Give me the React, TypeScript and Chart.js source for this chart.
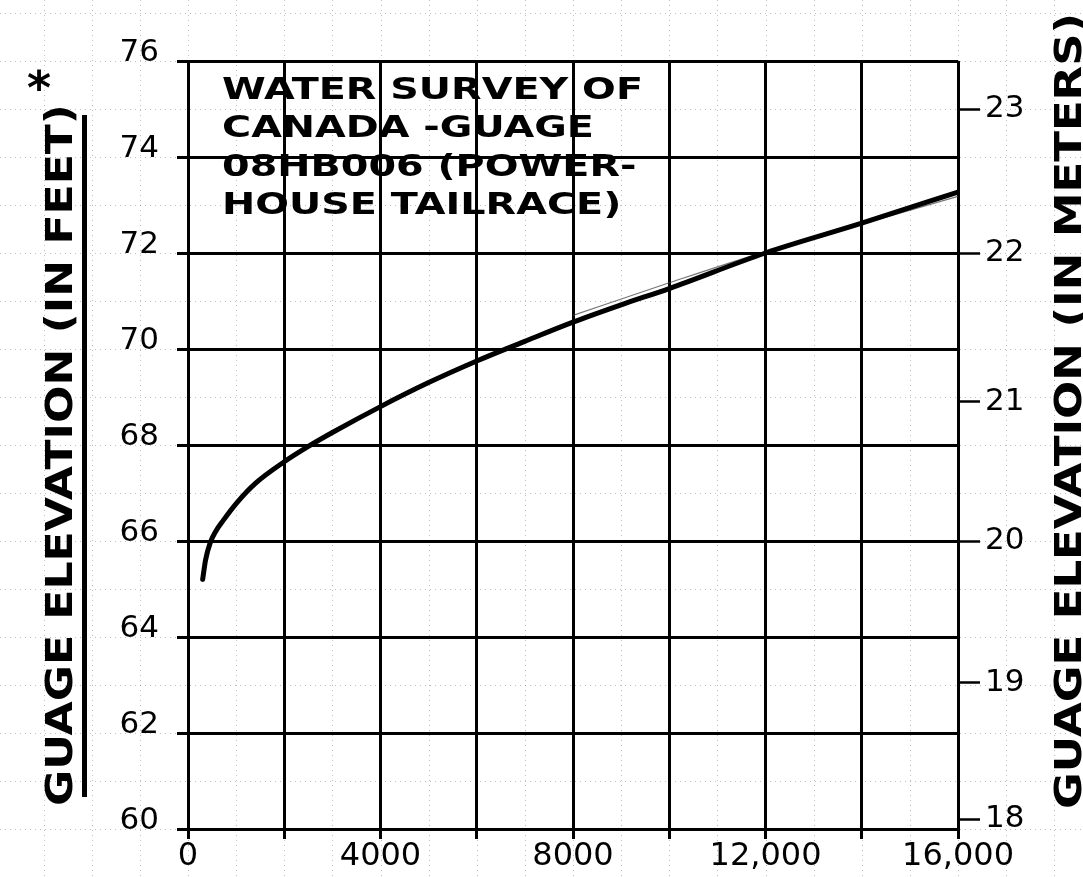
import React, { useEffect, useRef } from 'react';
import { Chart, registerables } from 'chart.js';

Chart.register(...registerables);

// ---- data ----
const dischargeValues = [305, 364, 457, 582, 733, 1018, 1400, 2000, 2500, 3000, 4000, 5000, 6000, 7000, 8000, 9000, 10000, 12000, 14000, 16000];
const elevationFeet = [65.2, 65.6, 65.95, 66.21, 66.43, 66.8, 67.2, 67.65, 67.97, 68.26, 68.8, 69.3, 69.75, 70.16, 70.56, 70.92, 71.26, 72.0, 72.62, 73.27];

const traceDischarge = [8000, 10000, 12000, 14000, 16000];
const traceFeet = [70.7, 71.38, 72.03, 72.6, 73.18];

const xTickValues = [0, 4000, 8000, 12000, 16000];
const xTickLabels = ['0', '4000', '8000', '12,000', '16,000'];

const feetTickValues = [60, 62, 64, 66, 68, 70, 72, 74, 76];
const feetTickLabels = ['60', '62', '64', '66', '68', '70', '72', '74', '76'];

const meterTickFeet = [75.0, 72.0, 68.9, 66.0, 63.05, 60.2];
const meterTickLabels = ['23', '22', '21', '20', '19', '18'];

const titleLines = ['WATER SURVEY OF', 'CANADA -GUAGE', '08HB006 (POWER-', 'HOUSE TAILRACE)'];
const leftAxisTitle = 'GUAGE ELEVATION (IN FEET)';
const rightAxisTitle = 'GUAGE ELEVATION (IN METERS)';

const FONT = '"DejaVu Sans", sans-serif';

const paperPlugin = {
  id: 'paper',
  beforeDraw(chart: any) {
    const { ctx, width, height } = chart;
    const xs = chart.scales.x;
    const ys = chart.scales.y;
    ctx.save();
    ctx.fillStyle = '#ffffff';
    ctx.fillRect(0, 0, width, height);
    ctx.strokeStyle = 'rgba(70,70,70,0.35)';
    ctx.lineWidth = 1;
    ctx.setLineDash([1, 4]);
    for (let v = -4000; v <= 24000; v += 1000) {
      const px = Math.round(xs.getPixelForValue(v)) + 0.5;
      if (px < 0 || px > width) continue;
      ctx.beginPath();
      ctx.moveTo(px, 0);
      ctx.lineTo(px, height);
      ctx.stroke();
    }
    for (let v = 56; v <= 80; v += 1) {
      const py = Math.round(ys.getPixelForValue(v)) + 0.5;
      if (py < 0 || py > height) continue;
      ctx.beginPath();
      ctx.moveTo(0, py);
      ctx.lineTo(width, py);
      ctx.stroke();
    }
    ctx.restore();
  },
};

const textPlugin = {
  id: 'handText',
  afterDraw(chart: any) {
    const { ctx, chartArea } = chart;
    ctx.save();
    ctx.fillStyle = '#000';
    ctx.strokeStyle = '#000';

    // Title block in plot
    ctx.font = `bold 30px ${FONT}`;
    ctx.textBaseline = 'middle';
    ctx.textAlign = 'left';
    const w0 = ctx.measureText(titleLines[0]).width;
    const sx = 421 / w0;
    const tx = chartArea.left + 34;
    const lineYs = [91, 129, 168, 206];
    titleLines.forEach((line, i) => {
      ctx.save();
      ctx.translate(tx, lineYs[i]);
      ctx.scale(sx, 1);
      ctx.fillText(line, 0, 0);
      ctx.restore();
    });

    // Left axis title (rotated)
    ctx.font = `bold 37px ${FONT}`;
    ctx.textBaseline = 'alphabetic';
    const wl = ctx.measureText(leftAxisTitle).width;
    ctx.save();
    ctx.translate(72, 806);
    ctx.rotate(-Math.PI / 2);
    ctx.scale(702 / wl, 1);
    ctx.fillText(leftAxisTitle, 0, 0);
    ctx.restore();

    // underline of left title
    ctx.lineWidth = 5;
    ctx.setLineDash([]);
    ctx.beginPath();
    ctx.moveTo(84.5, 115);
    ctx.lineTo(84.5, 797);
    ctx.stroke();

    // asterisk
    ctx.font = `bold 46px ${FONT}`;
    ctx.textAlign = 'center';
    ctx.textBaseline = 'middle';
    ctx.fillText('*', 39, 92);

    // Right axis title (rotated)
    ctx.font = `bold 38px ${FONT}`;
    ctx.textAlign = 'left';
    ctx.textBaseline = 'alphabetic';
    const wr = ctx.measureText(rightAxisTitle).width;
    ctx.save();
    ctx.translate(1081, 809);
    ctx.rotate(-Math.PI / 2);
    ctx.scale(796 / wr, 1);
    ctx.fillText(rightAxisTitle, 0, 0);
    ctx.restore();

    ctx.restore();
  },
};

export default function App() {
  const canvasRef = useRef<HTMLCanvasElement | null>(null);

  useEffect(() => {
    document.body.style.margin = '0';
    const canvas = canvasRef.current;
    if (!canvas) return;
    const chart = new Chart(canvas, {
      type: 'line',
      data: {
        datasets: [
          {
            label: 'trace',
            data: traceDischarge.map((x, i) => ({ x, y: traceFeet[i] })),
            borderColor: 'rgba(60,60,60,0.7)',
            borderWidth: 1.2,
            pointRadius: 0,
            cubicInterpolationMode: 'monotone',
            order: 2,
          },
          {
            label: 'rating',
            data: dischargeValues.map((x, i) => ({ x, y: elevationFeet[i] })),
            borderColor: '#000',
            borderWidth: 5,
            borderCapStyle: 'round',
            borderJoinStyle: 'round',
            pointRadius: 0,
            cubicInterpolationMode: 'monotone',
            order: 1,
          },
        ],
      },
      options: {
        animation: false,
        responsive: false,
        maintainAspectRatio: false,
        devicePixelRatio: 1,
        layout: { padding: { top: 61, left: 0, right: 0, bottom: 0 } },
        plugins: {
          legend: { display: false },
          tooltip: { enabled: false },
          title: { display: false },
        },
        scales: {
          x: {
            type: 'linear',
            min: 0,
            max: 16000,
            afterFit: (s: any) => {
              s.height = 48;
            },
            border: { display: true, color: '#000', width: 3 },
            grid: { color: '#000', lineWidth: 3, tickLength: 10, tickColor: '#000' },
            ticks: {
              stepSize: 2000,
              autoSkip: false,
              maxRotation: 0,
              padding: -2,
              color: '#000',
              font: { family: FONT, size: 32 },
              callback: (v: any) => {
                const i = xTickValues.indexOf(Number(v));
                return i >= 0 ? xTickLabels[i] : '';
              },
            },
          },
          y: {
            type: 'linear',
            position: 'left',
            min: 60,
            max: 76,
            afterFit: (s: any) => {
              s.width = 188;
            },
            border: { display: true, color: '#000', width: 3 },
            grid: { color: '#000', lineWidth: 3, tickLength: 11, tickColor: '#000' },
            ticks: {
              stepSize: 2,
              autoSkip: false,
              padding: 18,
              labelOffset: -8,
              color: '#000',
              font: { family: FONT, size: 31 },
              callback: (v: any) => {
                const i = feetTickValues.indexOf(Number(v));
                return i >= 0 ? feetTickLabels[i] : '';
              },
            },
          },
          y2: {
            type: 'linear',
            position: 'right',
            min: 60,
            max: 76,
            afterFit: (s: any) => {
              s.width = 125;
            },
            afterBuildTicks: (s: any) => {
              s.ticks = meterTickFeet.map((v) => ({ value: v }));
            },
            border: { display: false },
            grid: {
              drawOnChartArea: false,
              drawTicks: true,
              tickLength: 22,
              tickColor: '#000',
              tickWidth: 2.5,
              color: '#000',
            },
            ticks: {
              autoSkip: false,
              padding: 5,
              color: '#000',
              font: { family: FONT, size: 31 },
              callback: (_v: any, i: number) => meterTickLabels[i],
            },
          },
        },
      },
      plugins: [paperPlugin, textPlugin],
    } as any);
    return () => {
      chart.destroy();
    };
  }, []);

  return (
    <div style={{ position: 'absolute', left: 0, top: 0, width: 1083, height: 877 }}>
      <canvas ref={canvasRef} width={1083} height={877} style={{ width: 1083, height: 877, display: 'block' }} />
    </div>
  );
}
